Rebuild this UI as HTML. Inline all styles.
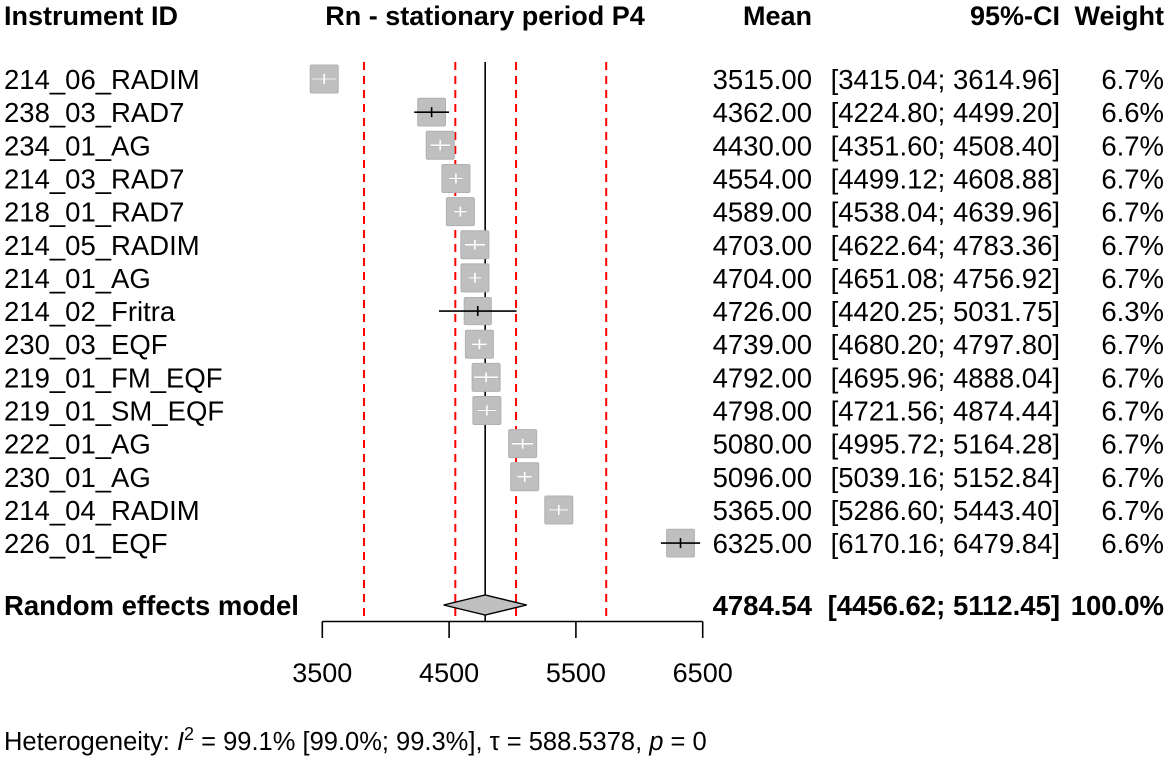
<!DOCTYPE html>
<html><head><meta charset="utf-8"><style>
html,body{margin:0;padding:0;background:#fff;}
svg{display:block;font-family:"Liberation Sans",Arial,sans-serif;}
</style></head><body>
<svg id="chart" width="1169" height="757" viewBox="0 0 1169 757" xmlns="http://www.w3.org/2000/svg">
<g id="hdr" font-size="27" font-weight="bold">
<text x="4" y="25">Instrument ID</text>
<text x="485" y="25" text-anchor="middle">Rn - stationary period P4</text>
<text x="812" y="25" text-anchor="end">Mean</text>
<text x="1060" y="25" text-anchor="end">95%-CI</text>
<text x="1164" y="25" text-anchor="end">Weight</text>
</g>
<g id="refs"></g>
<g id="rows"></g>
<g id="pooled"></g>
<g id="axis"></g>
<text x="4" y="750" font-size="25.5">Heterogeneity: <tspan font-style="italic">I</tspan><tspan dy="-10" font-size="18">2</tspan><tspan dy="10"> = 99.1% [99.0%; 99.3%], τ = 588.5378, </tspan><tspan font-style="italic">p</tspan> = 0</text>
</svg>
<script>
const names=["214_06_RADIM","238_03_RAD7","234_01_AG","214_03_RAD7","218_01_RAD7","214_05_RADIM","214_01_AG","214_02_Fritra","230_03_EQF","219_01_FM_EQF","219_01_SM_EQF","222_01_AG","230_01_AG","214_04_RADIM","226_01_EQF"];
const means=[3515,4362,4430,4554,4589,4703,4704,4726,4739,4792,4798,5080,5096,5365,6325];
const lower=[3415.04,4224.80,4351.60,4499.12,4538.04,4622.64,4651.08,4420.25,4680.20,4695.96,4721.56,4995.72,5039.16,5286.60,6170.16];
const upper=[3614.96,4499.20,4508.40,4608.88,4639.96,4783.36,4756.92,5031.75,4797.80,4888.04,4874.44,5164.28,5152.84,5443.40,6479.84];
const weights=[6.7,6.6,6.7,6.7,6.7,6.7,6.7,6.3,6.7,6.7,6.7,6.7,6.7,6.7,6.6];
const pooled=[4784.54,4456.62,5112.45];
const refLines=[3829,4549,5028,5739];
const ticks=[3500,4500,5500,6500];

const NS="http://www.w3.org/2000/svg";
const FS=27.5;
const x=v=>322.3+(v-3500)*0.1268;
const rowY=i=>79+i*33.15;
function mk(tag,attrs,parent,txt){const e=document.createElementNS(NS,tag);for(const k in attrs)e.setAttribute(k,attrs[k]);if(txt!==undefined)e.textContent=txt;parent.appendChild(e);return e;}
const refs=document.getElementById('refs'),rows=document.getElementById('rows'),pg=document.getElementById('pooled'),ax=document.getElementById('axis');
const yTop=62,yBot=621.5;
refLines.forEach(v=>{const l=mk('line',{x1:x(v),x2:x(v),y1:yTop,y2:yBot,stroke:'#ff0000','stroke-width':2,'stroke-dasharray':'8,6'},refs);

});
const ml=mk('line',{x1:x(pooled[0]),x2:x(pooled[0]),y1:yTop,y2:yBot,stroke:'#000','stroke-width':1.6},refs);


const f2=n=>n.toFixed(2);
names.forEach((n,i)=>{
 const y=rowY(i),g=mk('g',{},rows);
 
 
 const s=28*Math.sqrt(weights[i]/6.7),cx=x(means[i]);
 const sq=mk('rect',{x:cx-s/2,y:y-s/2,width:s,height:s,fill:'#bfbfbf',stroke:'#b0b0b0','stroke-width':1,rx:1.5},g);
 
 
 const l0=x(lower[i]),l1=x(upper[i]);
 const ci=mk('line',{x1:l0,x2:l1,y1:y,y2:y,stroke:'#000','stroke-width':1.6},g);
 
 
 const inside=(cx-s/2<l0&&l1<cx+s/2);
 if(inside) mk('line',{x1:l0,x2:l1,y1:y,y2:y,stroke:'#fff','stroke-width':1.6},g);
 mk('line',{x1:cx,x2:cx,y1:y-5,y2:y+5,stroke:inside?'#fff':'#000','stroke-width':1.6},g);
 const t1=mk('text',{x:4,y:y+10,'font-size':FS},g,n);
 
 
 mk('text',{x:812,y:y+10,'font-size':FS,'text-anchor':'end'},g,f2(means[i]));
 mk('text',{x:1060,y:y+10,'font-size':FS,'text-anchor':'end'},g,'['+f2(lower[i])+'; '+f2(upper[i])+']');
 mk('text',{x:1164,y:y+10,'font-size':FS,'text-anchor':'end'},g,weights[i].toFixed(1)+'%');
});
const py=605;
const d=mk('polygon',{points:`${x(pooled[1])},${py} ${x(pooled[0])},${py-10} ${x(pooled[2])},${py} ${x(pooled[0])},${py+10}`,fill:'#c0c0c0',stroke:'#000','stroke-width':1.4},pg);


const pl=mk('text',{x:4,y:py+10,'font-size':FS,'font-weight':'bold'},pg,'Random effects model');


mk('text',{x:812,y:py+10,'font-size':FS,'font-weight':'bold','text-anchor':'end'},pg,f2(pooled[0]));
mk('text',{x:1060,y:py+10,'font-size':FS,'font-weight':'bold','text-anchor':'end'},pg,'['+f2(pooled[1])+'; '+f2(pooled[2])+']');
mk('text',{x:1164,y:py+10,'font-size':FS,'font-weight':'bold','text-anchor':'end'},pg,'100.0%');
const al=mk('line',{x1:x(ticks[0]),x2:x(ticks[ticks.length-1]),y1:yBot,y2:yBot,stroke:'#000','stroke-width':1.6},ax);


ticks.forEach(t=>{mk('line',{x1:x(t),x2:x(t),y1:yBot,y2:638,stroke:'#000','stroke-width':1.6},ax);
 const tl=mk('text',{x:x(t),y:682,'font-size':27,'text-anchor':'middle'},ax,String(t));
 
 });
</script>
</body></html>
